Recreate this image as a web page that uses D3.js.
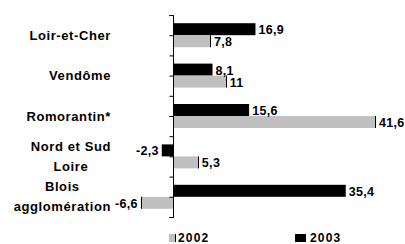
<!DOCTYPE html>
<html>
<head>
<meta charset="utf-8">
<script src="https://cdn.jsdelivr.net/npm/d3@7"></script>
<style>
  body { margin: 0; background: #fff; }
  text { font-family: "Liberation Sans", Arial, sans-serif; font-weight: bold; fill: #000; }
</style>
</head>
<body>
<svg id="chart" width="405" height="244"></svg>
<script>
// categories, top to bottom
const categories = ['Loir-et-Cher', 'Vendôme', 'Romorantin*', 'Nord et Sud Loire', 'Blois agglomération'];
const catLines = [['Loir-et-Cher'], ['Vendôme'], ['Romorantin*'], ['Nord et Sud', 'Loire'], ['Blois', 'agglomération']];
const values2002 = [7.8, 11, 41.6, 5.3, -6.6];
const values2003 = [16.9, 8.1, 15.6, -2.3, 35.4];
const seriesNames = ['2003', '2002'];
const seriesColors = { '2002': '#c0c0c0', '2003': '#000000' };

const svg = d3.select('#chart');

// x scale : axis sits at x=173
const x = d3.scaleLinear().domain([-10, 45]).range([124.2, 392.6]);
const y0 = d3.scaleBand().domain(categories).range([15, 217]);
const y1 = d3.scaleBand().domain(seriesNames).range([0, y0.bandwidth()]).paddingOuter(0.683);

// rows of data
const rows = [];
categories.forEach((c, i) => {
  rows.push({ cat: c, s: '2003', v: values2003[i] });
  rows.push({ cat: c, s: '2002', v: values2002[i] });
});

const fmt = v => String(v).replace('.', ',');

// bars
svg.selectAll('rect.bar')
  .data(rows)
  .enter().append('rect')
  .attr('class', 'bar')
  .attr('x', d => Math.min(x(0), x(d.v)))
  .attr('y', d => y0(d.cat) + y1(d.s))
  .attr('width', d => Math.abs(x(d.v) - x(0)))
  .attr('height', y1.bandwidth())
  .attr('fill', d => seriesColors[d.s]);

// dark edge at the end of the grey bars
svg.selectAll('line.edge')
  .data(rows.filter(d => d.s === '2002'))
  .enter().append('line')
  .attr('x1', d => Math.round(x(d.v)) + (d.v > 0 ? -0.5 : 0.5))
  .attr('x2', d => Math.round(x(d.v)) + (d.v > 0 ? -0.5 : 0.5))
  .attr('y1', d => y0(d.cat) + y1(d.s))
  .attr('y2', d => y0(d.cat) + y1(d.s) + y1.bandwidth())
  .attr('stroke', '#000')
  .attr('stroke-width', 1);

// value labels
svg.selectAll('text.val')
  .data(rows)
  .enter().append('text')
  .attr('class', 'val')
  .attr('x', d => d.v >= 0 ? x(d.v) + 3 : x(d.v) - 3)
  .attr('y', d => y0(d.cat) + y1(d.s) + y1.bandwidth() / 2 + 1)
  .attr('dominant-baseline', 'central')
  .attr('text-anchor', d => d.v >= 0 ? 'start' : 'end')
  .style('font-size', '12.5px')
  .style('letter-spacing', '0.3px')
  .text(d => fmt(d.v));

// axis with ticks every half category
const tickScale = d3.scaleLinear().domain([0, 10]).range([15, 217]);
const axis = svg.append('g')
  .attr('transform', 'translate(' + (Math.round(x(0)) + 0.5) + ',0)')
  .call(d3.axisLeft(tickScale).ticks(10).tickSize(4).tickFormat(''));
axis.selectAll('path, line').attr('stroke', '#000');
axis.select('path').attr('d', 'M-4,15.5H0V217.5H-4');

// category labels (lines centred, block right aligned)
catLines.forEach((lines, i) => {
  const g = svg.append('g');
  const cy = y0(categories[i]) + y0.bandwidth() / 2;
  const texts = lines.map((t, j) => g.append('text')
    .attr('y', cy + (j - (lines.length - 1) / 2) * 20)
    .attr('dominant-baseline', 'central')
    .attr('text-anchor', 'middle')
    .style('font-size', '13px')
    .style('letter-spacing', '0.6px')
    .text(t));
  const w = d3.max(texts, t => t.node().getComputedTextLength());
  texts.forEach(t => t.attr('x', 111 - w / 2));
});

// legend
const legendX = { '2002': 169, '2003': 295 };
['2002', '2003'].forEach(s => {
  const lg = svg.append('g').attr('transform', 'translate(' + legendX[s] + ',234)');
  lg.append('rect')
    .attr('width', s === '2002' ? 6 : 11)
    .attr('height', 8)
    .attr('fill', seriesColors[s]);
  if (s === '2002') {
    lg.append('line').attr('x1', 6.5).attr('x2', 6.5).attr('y1', 0).attr('y2', 8).attr('stroke', '#000');
  }
  lg.append('text')
    .attr('x', s === '2002' ? 9 : 15)
    .attr('y', 4)
    .attr('dominant-baseline', 'central')
    .style('font-size', '12px')
    .style('letter-spacing', '1.2px')
    .text(s);
});
</script>
</body>
</html>
